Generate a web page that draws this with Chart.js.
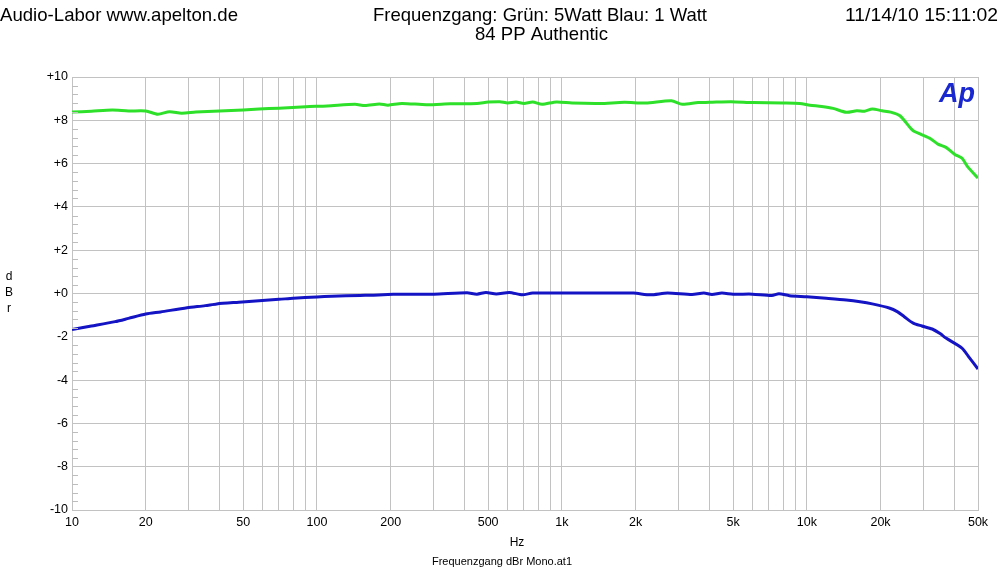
<!DOCTYPE html>
<html>
<head>
<meta charset="utf-8">
<script src="https://cdn.jsdelivr.net/npm/chart.js@4/dist/chart.umd.min.js"></script>
<style>
html,body{margin:0;padding:0;background:#fff;}
canvas{display:block;}
</style>
</head>
<body>
<canvas id="c" width="1000" height="574"></canvas>
<script>
// ---- data ----
const greenFreq = [10,12,14.6,17,20,22.4,25,28,32,40,50,58,70,90,110,143,157,180,195,222,280,350,450,500,558,600,650,700,760,830,950,1100,1430,1800,2200,2800,3100,3600,4000,4900,6000,8000,9350,10300,11500,12800,14500,16000,17200,18500,20300,22000,24000,27000,29000,32000,34300,37000,40200,43000,45400,50000];
const greenDb   = [8.38,8.42,8.47,8.43,8.43,8.28,8.40,8.33,8.38,8.43,8.48,8.52,8.56,8.63,8.66,8.74,8.68,8.75,8.70,8.78,8.72,8.76,8.78,8.84,8.86,8.80,8.84,8.78,8.84,8.74,8.85,8.80,8.78,8.83,8.80,8.90,8.74,8.82,8.83,8.86,8.82,8.80,8.78,8.70,8.64,8.55,8.37,8.44,8.42,8.52,8.44,8.38,8.21,7.55,7.37,7.15,6.90,6.75,6.42,6.25,5.85,5.33];
const blueFreq  = [10,12,15,17,20,23,29.5,35,39,48,58,70,80,100,115,150,165,205,300,410,450,490,540,610,690,760,1000,1500,1960,2300,2700,3400,3800,4100,4500,5000,6000,7200,7700,8500,10000,12000,14500,16500,18500,21700,23500,25000,27200,29500,32500,35000,37000,43000,46000,50000];
const blueDb    = [-1.66,-1.50,-1.30,-1.15,-0.95,-0.85,-0.66,-0.56,-0.48,-0.40,-0.33,-0.27,-0.22,-0.16,-0.13,-0.09,-0.08,-0.04,-0.03,0.03,-0.03,0.05,-0.02,0.05,-0.06,0.02,0.02,0.02,0.02,-0.06,0.02,-0.05,0.02,-0.05,0.02,-0.03,-0.03,-0.09,-0.01,-0.10,-0.15,-0.22,-0.30,-0.38,-0.48,-0.67,-0.85,-1.07,-1.37,-1.50,-1.64,-1.85,-2.06,-2.52,-2.95,-3.49];
const xGridValues = [10,20,30,40,50,60,70,80,90,100,200,300,400,500,600,700,800,900,1000,2000,3000,4000,5000,6000,7000,8000,9000,10000,20000,30000,40000,50000];
const xLabelValues = [10,20,50,100,200,500,1000,2000,5000,10000,20000,50000];
const xLabelTexts  = ['10','20','50','100','200','500','1k','2k','5k','10k','20k','50k'];
const yTickValues = [10,8,6,4,2,0,-2,-4,-6,-8,-10];
const yTickTexts  = ['+10','+8','+6','+4','+2','+0','-2','-4','-6','-8','-10'];

const FONT = '"Liberation Sans", Arial, sans-serif';
const GRID = '#c2c2c2';

function pts(fx, fy){ return fx.map((f,i)=>({x:f, y:fy[i]})); }

function fitText(ctx, txt, x, y, w, size){
  ctx.font = size + 'px ' + FONT;
  const m = ctx.measureText(txt).width;
  ctx.save();
  ctx.translate(x, y);
  ctx.scale(w / m, 1);
  ctx.textAlign = 'left';
  ctx.textBaseline = 'alphabetic';
  ctx.fillText(txt, 0, 0);
  ctx.restore();
}

const decor = {
  id: 'decor',
  beforeDraw(chart){
    const ctx = chart.ctx;
    ctx.save();
    ctx.fillStyle = '#fff';
    ctx.fillRect(0,0,chart.width,chart.height);
    ctx.restore();
  },
  afterDatasetsDraw(chart){
    const ctx = chart.ctx;
    const ys = chart.scales.y;
    const a = chart.chartArea;
    ctx.save();
    ctx.strokeStyle = '#bdbdbd';
    ctx.lineWidth = 1;
    for (let i = 0; i <= 50; i++){
      const v = -10 + i*0.4;
      if (Math.abs(Math.round(v/2)*2 - v) < 0.01) continue;
      const py = Math.round(ys.getPixelForValue(v)) + 0.5;
      ctx.beginPath();
      ctx.moveTo(a.left, py);
      ctx.lineTo(a.left + 6, py);
      ctx.stroke();
    }
    ctx.restore();
  },
  afterDraw(chart){
    const ctx = chart.ctx;
    ctx.save();
    ctx.fillStyle = '#000';
    fitText(ctx, 'Audio-Labor www.apelton.de', 0, 21, 238, 19);
    fitText(ctx, 'Frequenzgang: Grün: 5Watt Blau: 1 Watt', 373, 21, 334, 19);
    fitText(ctx, '84 PP Authentic', 475, 40, 133, 19);
    fitText(ctx, '11/14/10 15:11:02', 845, 21, 153, 19);
    ctx.font = '12px ' + FONT;
    ctx.textAlign = 'center';
    ctx.textBaseline = 'middle';
    ctx.fillText('d', 9, 277);
    ctx.fillText('B', 9, 293);
    ctx.fillText('r', 9, 309);
    ctx.font = '12px ' + FONT;
    ctx.fillText('Hz', 517, 543);
    ctx.font = '11px ' + FONT;
    ctx.fillText('Frequenzgang dBr Mono.at1', 502, 562);
    ctx.fillStyle = '#1a28d0';
    ctx.font = 'italic bold 27px ' + FONT;
    ctx.textAlign = 'left';
    ctx.textBaseline = 'alphabetic';
    ctx.fillText('Ap', 939, 102);
    ctx.restore();
  }
};

new Chart(document.getElementById('c'), {
  type: 'line',
  data: {
    datasets: [
      { label: 'Grün 5 Watt', data: pts(greenFreq, greenDb), borderColor: '#2ee02a', borderWidth: 3, pointRadius: 0, tension: 0.25, fill: false },
      { label: 'Blau 1 Watt', data: pts(blueFreq, blueDb), borderColor: '#1414c4', borderWidth: 3, pointRadius: 0, tension: 0.25, fill: false }
    ]
  },
  options: {
    responsive: false,
    animation: false,
    layout: { padding: { top: 77, right: 22, bottom: 0, left: 0 } },
    plugins: { legend: { display: false }, tooltip: { enabled: false }, title: { display: false } },
    scales: {
      x: {
        type: 'logarithmic',
        min: 10, max: 50000,
        afterBuildTicks(s){ s.ticks = xGridValues.map(v => ({ value: v })); },
        afterFit(s){ s.height = 64; },
        grid: { color: GRID, drawTicks: false, lineWidth: 1 },
        border: { color: GRID },
        ticks: {
          autoSkip: false, maxRotation: 0, minRotation: 0, padding: 5,
          color: '#000', font: { family: FONT, size: 12.5 },
          callback(v){ const i = xLabelValues.indexOf(v); return i >= 0 ? xLabelTexts[i] : ''; }
        }
      },
      y: {
        type: 'linear',
        min: -10, max: 10,
        afterBuildTicks(s){ s.ticks = yTickValues.map(v => ({ value: v })); },
        afterFit(s){ s.width = 72; },
        grid: { color: GRID, drawTicks: false, lineWidth: 1 },
        border: { color: GRID },
        ticks: {
          padding: 4, color: '#000', font: { family: FONT, size: 12.5 },
          callback(v){ const i = yTickValues.indexOf(v); return i >= 0 ? yTickTexts[i] : ''; }
        }
      }
    }
  },
  plugins: [decor]
});
</script>
</body>
</html>
